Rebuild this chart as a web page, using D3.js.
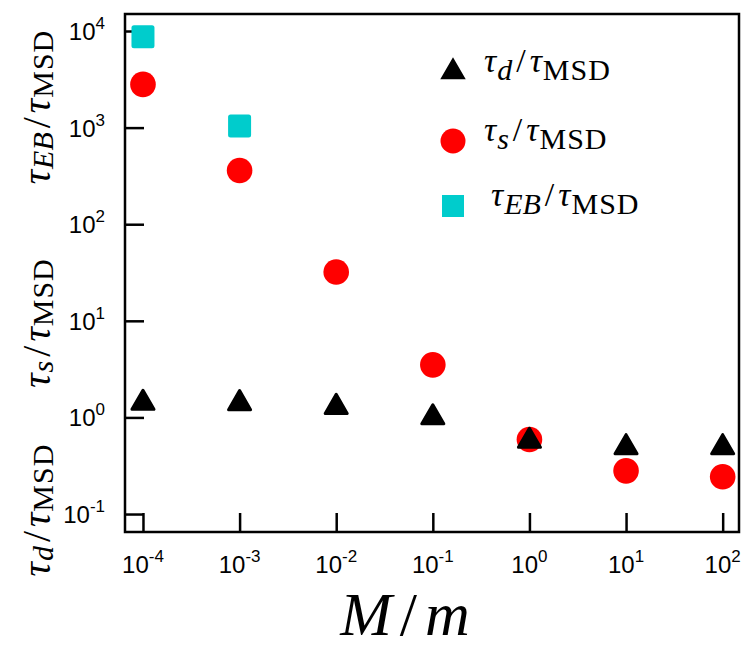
<!DOCTYPE html>
<html>
<head>
<meta charset="utf-8">
<script src="https://cdn.jsdelivr.net/npm/d3@7"></script>
<style>
  html, body { margin: 0; padding: 0; background: #fff; }
  svg { display: block; }
</style>
</head>
<body>
<svg id="chart" width="745" height="650"></svg>
<script>
// Mass ratio M/m (x) and time-scale ratios (y)
const massRatio = [1e-4, 1e-3, 1e-2, 1e-1, 1e0, 1e1, 1e2];
const tauD = [1.41, 1.40, 1.28, 1.00, 0.57, 0.49, 0.49];
const tauS = [2800, 360, 32, 3.5, 0.59, 0.28, 0.243];
const tauEBx = [1e-4, 1e-3];
const tauEB = [8700, 1040];
const xTickExps = [-4, -3, -2, -1, 0, 1, 2];
const yTickExps = [-1, 0, 1, 2, 3, 4];

const colors = { d: "#000000", s: "#ff0000", eb: "#00cccc" };

const svg = d3.select("#chart");
const plot = { left: 125, right: 739, top: 14, bottom: 532 };

const x = d3.scaleLog()
  .domain([Math.pow(10, -4.186), Math.pow(10, 2.169)])
  .range([plot.left, plot.right]);
const y = d3.scaleLog()
  .domain([Math.pow(10, -1.186), Math.pow(10, 4.176)])
  .range([plot.bottom, plot.top]);

const tickFont = "'Liberation Sans', Arial, sans-serif";
const mathFont = "'Liberation Serif', 'Times New Roman', serif";

// Axes with inward ticks
const xAxis = d3.axisBottom(x)
  .tickValues(xTickExps.map(e => Math.pow(10, e)))
  .tickSize(-19).tickFormat("");
const yAxis = d3.axisLeft(y)
  .tickValues(yTickExps.map(e => Math.pow(10, e)))
  .tickSize(-19).tickFormat("");

const gx = svg.append("g").attr("transform", `translate(0,${plot.bottom})`).call(xAxis);
const gy = svg.append("g").attr("transform", `translate(${plot.left},0)`).call(yAxis);
[gx, gy].forEach(g => {
  g.select(".domain").remove();
  g.selectAll(".tick line").attr("stroke", "#000").attr("stroke-width", 2.5);
});

// Frame
svg.append("rect")
  .attr("x", plot.left).attr("y", plot.top)
  .attr("width", plot.right - plot.left).attr("height", plot.bottom - plot.top)
  .attr("fill", "none").attr("stroke", "#000").attr("stroke-width", 2.5);

// Tick labels with superscript exponents
function powerLabel(sel, exp) {
  sel.append("tspan").text("10");
  sel.append("tspan").attr("dy", -11).attr("font-size", 17).text(exp < 0 ? "-" + (-exp) : String(exp));
}
xTickExps.forEach(e => {
  const t = svg.append("text")
    .attr("x", x(Math.pow(10, e))).attr("y", 573)
    .attr("text-anchor", "middle")
    .attr("font-family", tickFont).attr("font-size", 24);
  powerLabel(t, e);
});
yTickExps.forEach(e => {
  const t = svg.append("text")
    .attr("x", 105).attr("y", y(Math.pow(10, e)) + 9)
    .attr("text-anchor", "end")
    .attr("font-family", tickFont).attr("font-size", 24);
  powerLabel(t, e);
});

// Math-style ratio label: tau_sub / tau_MSD
function ratioLabel(sel, sub, size, subSize, shift) {
  sel.append("tspan").attr("font-style", "italic").text("τ");
  sel.append("tspan").attr("font-style", "italic").attr("font-size", subSize).attr("dy", shift).attr("dx", 1).text(sub);
  sel.append("tspan").attr("dy", -shift).attr("dx", 4).text("/");
  sel.append("tspan").attr("font-style", "italic").attr("dx", 4).text("τ");
  sel.append("tspan").attr("font-size", subSize).attr("dy", shift).attr("dx", 1)
    .attr("letter-spacing", 1).text("MSD");
}

// Y-axis title in three stacked parts
[["d", 510], ["s", 323], ["EB", 107]].forEach(([sub, cy]) => {
  const t = svg.append("text")
    .attr("transform", `translate(50,${cy}) rotate(-90)`)
    .attr("text-anchor", "middle")
    .attr("font-family", mathFont).attr("font-size", 40);
  ratioLabel(t, sub, 40, 30, 3);
});

// X-axis title
const xt = svg.append("text")
  .attr("x", 405).attr("y", 635)
  .attr("text-anchor", "middle")
  .attr("font-family", mathFont).attr("font-size", 62);
xt.append("tspan").attr("font-style", "italic").text("M");
xt.append("tspan").attr("dx", 8).text("/");
xt.append("tspan").attr("dx", 8).attr("font-style", "italic").text("m");

// Marker shapes
const tri = d3.symbol().type(d3.symbolTriangle).size(210);
const sq = { w: 23 };

// tau_EB / tau_MSD squares
svg.append("g").selectAll("rect").data(tauEBx.map((m, i) => [m, tauEB[i]])).join("rect")
  .attr("x", d => x(d[0]) - sq.w / 2).attr("y", d => y(d[1]) - sq.w / 2)
  .attr("width", sq.w).attr("height", sq.w).attr("rx", 2.5)
  .attr("fill", colors.eb);

// tau_s / tau_MSD circles
svg.append("g").selectAll("circle").data(massRatio.map((m, i) => [m, tauS[i]])).join("circle")
  .attr("cx", d => x(d[0])).attr("cy", d => y(d[1])).attr("r", 12.8)
  .attr("fill", colors.s);

// tau_d / tau_MSD triangles
svg.append("g").selectAll("path").data(massRatio.map((m, i) => [m, tauD[i]])).join("path")
  .attr("d", tri)
  .attr("transform", d => `translate(${x(d[0])},${y(d[1])})`)
  .attr("fill", colors.d).attr("stroke", colors.d)
  .attr("stroke-width", 3).attr("stroke-linejoin", "round");

// Legend
const legend = svg.append("g");
const legendItems = [
  { sub: "d", y: 72, tx: 484, draw: g => g.append("path").attr("d", tri).attr("fill", colors.d).attr("stroke", colors.d).attr("stroke-width", 2).attr("stroke-linejoin", "miter") },
  { sub: "s", y: 141, tx: 484, draw: g => g.append("circle").attr("r", 12.5).attr("fill", colors.s) },
  { sub: "EB", y: 206, tx: 491, draw: g => g.append("rect").attr("x", -11).attr("y", -11).attr("width", 22).attr("height", 22).attr("fill", colors.eb) }
];
legendItems.forEach(item => {
  const g = legend.append("g").attr("transform", `translate(453,${item.y})`);
  item.draw(g);
  const t = legend.append("text")
    .attr("x", item.tx).attr("y", item.y)
    .attr("font-family", mathFont).attr("font-size", 34);
  ratioLabel(t, item.sub, 34, 30, 8);
});
</script>
</body>
</html>
